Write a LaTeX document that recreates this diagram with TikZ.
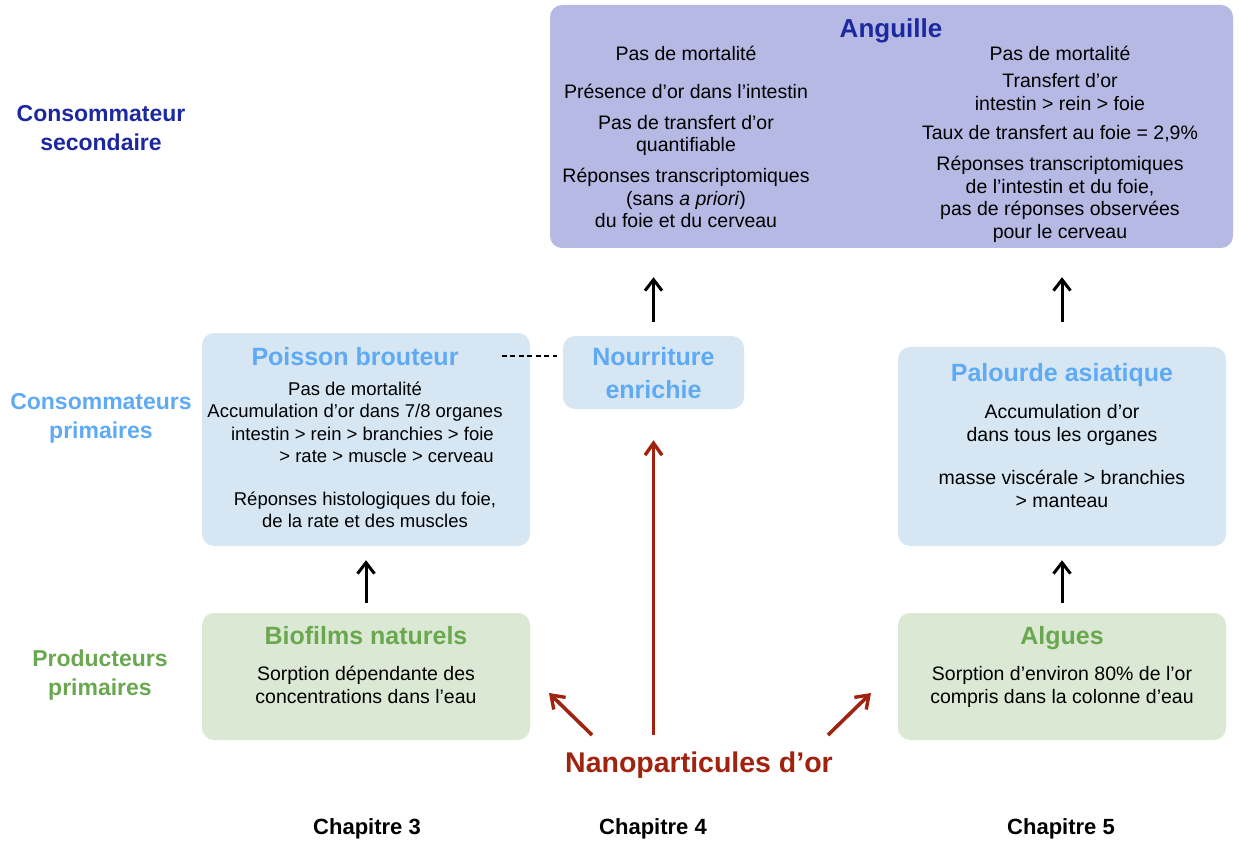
\documentclass[tikz,border=0pt]{standalone}
\usepackage{fontspec}
\setmainfont{Liberation Sans}
\usetikzlibrary{arrows.meta}
\definecolor{angfill}{RGB}{181,185,227}
\definecolor{dblue}{RGB}{28,40,160}
\definecolor{lblue}{RGB}{95,170,245}
\definecolor{lbluefill}{RGB}{214,231,243}
\definecolor{gfill}{RGB}{219,233,212}
\definecolor{gtext}{RGB}{106,168,79}
\definecolor{nred}{RGB}{160,35,15}
\newcommand\fsz[2]{\fontsize{#1}{#2}\selectfont}
\tikzset{
  box/.style={draw=none, fill=#1, rounded corners=12pt, inner sep=0pt},
  body/.style={align=center, inner sep=0pt, anchor=base, font=\fsz{19.5}{22.5}},
  smallbody/.style={align=center, inner sep=0pt, anchor=base, font=\fsz{18.5}{22}},
  ttl/.style={align=center, inner sep=0pt, anchor=base, font=\fsz{25}{33}\bfseries, text=#1},
  side/.style={align=center, inner sep=0pt, font=\fsz{23}{29}\bfseries, text=#1},
  chap/.style={inner sep=0pt, font=\fsz{22}{25}\bfseries},
  blk/.style={draw=black, line width=3pt, -{Straight Barb[length=11pt,width=17pt,line width=3pt]}},
  redarr/.style={draw=nred, line width=3.6pt, -{Straight Barb[length=12pt,width=17pt,line width=3.4pt]}},
}
\begin{document}
\begin{tikzpicture}[x=1pt,y=-1pt]
\useasboundingbox (0,0) rectangle (1239,842);

% boxes
\node[box=angfill, minimum width=683pt, minimum height=243pt] (ang) at (891.5,126.5) {};
\node[box=lbluefill, minimum width=328pt, minimum height=213pt] (poi) at (366,439.5) {};
\node[box=lbluefill, minimum width=181pt, minimum height=73pt] (nourr) at (653.5,372.5) {};
\node[box=lbluefill, minimum width=328pt, minimum height=199pt] (pal) at (1062,446.5) {};
\node[box=gfill, minimum width=328pt, minimum height=127pt] (bio) at (366,676.5) {};
\node[box=gfill, minimum width=328pt, minimum height=127pt] (alg) at (1062,676.5) {};

% Anguille
\node[ttl=dblue, font=\fsz{26}{30}\bfseries] (angt) at (891,38) {Anguille};
\node[body] (a1) at (686,61) {Pas de mortalité};
\node[body] (a2) at (686,99) {Présence d’or dans l’intestin};
\node[body] (a3) at (686,152) {Pas de transfert d’or\\quantifiable};
\node[body] (a4) at (686,228) {Réponses transcriptomiques\\(sans \textit{a priori})\\du foie et du cerveau};
\node[body] (b1) at (1060,61) {Pas de mortalité};
\node[body] (b2) at (1060,110.5) {Transfert d’or\\intestin > rein > foie};
\node[body] (b3) at (1060,140) {Taux de transfert au foie = 2,9\%};
\node[body] (b4) at (1060,238.5) {Réponses transcriptomiques\\de l’intestin et du foie,\\pas de réponses observées\\pour le cerveau};

% Poisson brouteur
\node[ttl=lblue] (poit) at (355,365) {Poisson brouteur};
\node[smallbody] (p1) at (355,417) {Pas de mortalité\\Accumulation d’or dans 7/8 organes};
\node[smallbody, align=right, anchor=base east] (p2) at (494,462) {intestin > rein > branchies > foie\\> rate > muscle > cerveau};
\node[smallbody] (p3) at (365,527) {Réponses histologiques du foie,\\de la rate et des muscles};

% Nourriture
\node[ttl=lblue] (nourrt) at (653.5,398) {Nourriture\\enrichie};

% Palourde
\node[ttl=lblue] (palt) at (1062,381) {Palourde asiatique};
\node[body] (q1) at (1062,441) {Accumulation d’or\\dans tous les organes};
\node[body] (q2) at (1062,507) {masse viscérale > branchies\\> manteau};

% Biofilms
\node[ttl=gtext] (biot) at (366,644) {Biofilms naturels};
\node[body] (c1) at (366,703) {Sorption dépendante des\\concentrations dans l’eau};

% Algues
\node[ttl=gtext] (algt) at (1062,644) {Algues};
\node[body] (d1) at (1062,703) {Sorption d’environ 80\% de l’or\\compris dans la colonne d’eau};

% Nanoparticules
\node[inner sep=0pt, anchor=base, font=\fsz{28.5}{30}\bfseries, text=nred] (np) at (699,772) {Nanoparticules d’or};

% side labels
\node[side=dblue] (s1) at (101,128.5) {Consommateur\\secondaire};
\node[side=lblue] (s2) at (101,418.5) {Consommateurs\\primaires};
\node[side=gtext] (s3) at (100,675.5) {Producteurs\\primaires};

% chapters
\node[chap] (ch3) at (367,829) {Chapitre 3};
\node[chap] (ch4) at (653,829) {Chapitre 4};
\node[chap] (ch5) at (1061,829) {Chapitre 5};

% connectors
\draw[blk, shorten <=10pt, shorten >=14pt] (bio.north) -- (poi.south);
\draw[blk, shorten <=10pt, shorten >=14pt] (alg.north) -- (pal.south);
\draw[blk, shorten <=25pt, shorten >=29pt] (pal.north) -- (pal.north |- ang.south);
\draw[blk, shorten <=14pt, shorten >=29pt] (nourr.north) -- (nourr.north |- ang.south);
\draw[line width=1.6pt, dash pattern=on 5pt off 3.5pt, shorten <=43pt, shorten >=6pt] (poit.east |- 0,356) -- (nourr.west |- 0,356);

\draw[redarr, shorten <=16pt, shorten >=31pt] (nourr.south |- np.north) -- (nourr.south);
\coordinate (l0) at (592,735);
\coordinate (l1) at (549,693);
\coordinate (r0) at (828,735);
\coordinate (r1) at (871,693);
\draw[redarr] (l0) -- (l1);
\draw[redarr] (r0) -- (r1);
\end{tikzpicture}
\end{document}
